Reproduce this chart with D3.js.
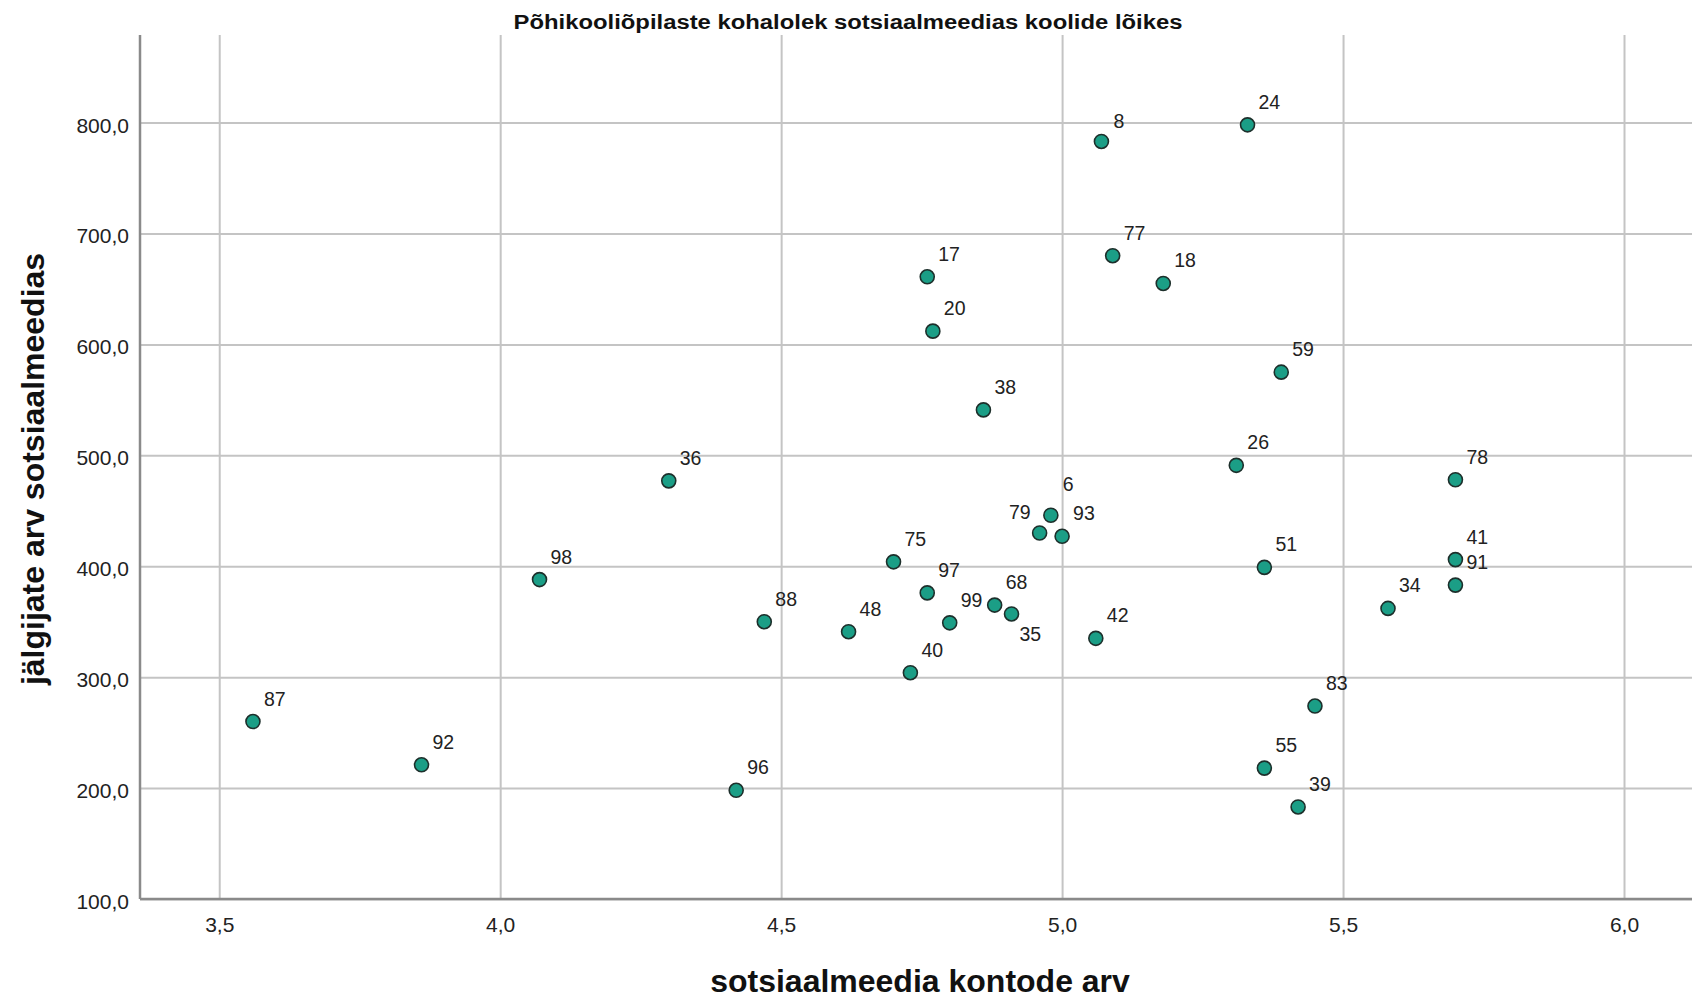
<!DOCTYPE html>
<html><head><meta charset="utf-8">
<script src="https://cdn.jsdelivr.net/npm/d3@7"></script>
<style>
html,body{margin:0;padding:0;background:#fff;}
svg{display:block;}
text{font-family:"Liberation Sans",Arial,sans-serif;}
</style></head><body>
<svg id="chart" width="1692" height="999"></svg>
<script>
// ---- data ----
const schoolIds = [87, 92, 98, 36, 96, 88, 48, 75, 40, 97, 17, 20, 99, 38, 68, 35, 79, 6, 93, 42, 8, 77, 18, 26, 24, 51, 55, 59, 39, 83, 34, 78, 41, 91];
const accounts  = [3.56, 3.86, 4.07, 4.30, 4.42, 4.47, 4.62, 4.70, 4.73, 4.76, 4.76, 4.77, 4.80, 4.86, 4.88, 4.91, 4.96, 4.98, 5.00, 5.06, 5.07, 5.09, 5.18, 5.31, 5.33, 5.36, 5.36, 5.39, 5.42, 5.45, 5.58, 5.70, 5.70, 5.70];
const followers = [260, 221, 388, 477, 198, 350, 341, 404, 304, 376, 661, 612, 349, 541, 365, 357, 430, 446, 427, 335, 783, 680, 655, 491, 798, 399, 218, 575, 183, 274, 362, 478, 406, 383];
const xTicks = [3.5, 4.0, 4.5, 5.0, 5.5, 6.0];
const yTicks = [100, 200, 300, 400, 500, 600, 700, 800];
const xDomain = [3.359, 6.121];
const yDomain = [100, 879];
const titleText = "Põhikooliõpilaste kohalolek sotsiaalmeedias koolide lõikes";
const xLabel = "sotsiaalmeedia kontode arv";
const yLabel = "jälgijate arv sotsiaalmeedias";

// label placement exceptions (styling)
const labelPlace = {79: "nw", 6: "n", 35: "se", 8: "ne2"};

(function () {
// ---- layout ----
const pLeft = 140, pRight = 1692, pTop = 35, pBottom = 899;
const svg = d3.select("#chart");
const x = d3.scaleLinear().domain(xDomain).range([pLeft, pRight]);
const y = d3.scaleLinear().domain(yDomain).range([pBottom, pTop]);
const loc = d3.formatLocale({decimal: ",", thousands: "\u00a0", grouping: [3], currency: ["", ""]});
const fmt = loc.format(".1f");

const gridColor = "#c4c4c4", axisColor = "#8a8a8a", textColor = "#222";

// gridlines
const gx = svg.append("g").attr("transform", `translate(0,${pBottom})`)
  .call(d3.axisBottom(x).tickValues(xTicks).tickSize(-(pBottom - pTop)).tickFormat(""));
gx.select(".domain").remove();
gx.selectAll("line").attr("stroke", gridColor).attr("stroke-width", 2);

const gy = svg.append("g").attr("transform", `translate(${pLeft},0)`)
  .call(d3.axisLeft(y).tickValues(yTicks).tickSize(-(pRight - pLeft)).tickFormat(""));
gy.select(".domain").remove();
gy.selectAll("line").attr("stroke", gridColor).attr("stroke-width", 2);

// axis lines
svg.append("line").attr("x1", pLeft).attr("x2", pLeft).attr("y1", pTop).attr("y2", pBottom)
  .attr("stroke", axisColor).attr("stroke-width", 2.5);
svg.append("line").attr("x1", pLeft).attr("x2", pRight).attr("y1", pBottom).attr("y2", pBottom)
  .attr("stroke", axisColor).attr("stroke-width", 2.5);

// tick labels
const ax = svg.append("g").attr("transform", `translate(0,${pBottom})`)
  .call(d3.axisBottom(x).tickValues(xTicks).tickSize(0).tickPadding(18).tickFormat(fmt));
ax.select(".domain").remove();
ax.selectAll("text").attr("font-size", 21).attr("fill", textColor)
  .attr("font-family", '"Liberation Sans",Arial,sans-serif');

const ay = svg.append("g").attr("transform", `translate(${pLeft},0)`)
  .call(d3.axisLeft(y).tickValues(yTicks).tickSize(0).tickPadding(11).tickFormat(fmt));
ay.select(".domain").remove();
ay.selectAll("text").attr("font-size", 21).attr("fill", textColor).attr("dy", "0.45em")
  .attr("font-family", '"Liberation Sans",Arial,sans-serif');

// points
const pts = schoolIds.map((id, i) => ({id, a: accounts[i], f: followers[i]}));
svg.append("g").selectAll("circle").data(pts).join("circle")
  .attr("cx", d => x(d.a)).attr("cy", d => y(d.f)).attr("r", 7)
  .attr("fill", "#1b9e86").attr("stroke", "#1d2f2b").attr("stroke-width", 1.6);

// point labels
function lp(d) {
  const cx = x(d.a), cy = y(d.f);
  switch (labelPlace[d.id]) {
    case "nw": return {x: cx - 9, y: cy - 21, anchor: "end"};
    case "n": return {x: cx + 12, y: cy - 31, anchor: "start"};
    case "se": return {x: cx + 8, y: cy + 20, anchor: "start"};
    case "ne2": return {x: cx + 12, y: cy - 20, anchor: "start"};
    default: return {x: cx + 11, y: cy - 23, anchor: "start"};
  }
}
svg.append("g").selectAll("text").data(pts).join("text")
  .attr("x", d => lp(d).x).attr("y", d => lp(d).y)
  .attr("text-anchor", d => lp(d).anchor)
  .attr("dy", "0.36em")
  .attr("font-size", 19.5).attr("fill", textColor)
  .text(d => d.id);

// title
svg.append("text").attr("x", 848).attr("y", 22).attr("dy", "0.36em")
  .attr("text-anchor", "middle").attr("font-size", 20).attr("font-weight", "bold")
  .attr("fill", "#111").attr("textLength", 669).attr("lengthAdjust", "spacingAndGlyphs")
  .text(titleText);

// axis titles
svg.append("text").attr("x", 920).attr("y", 980).attr("dy", "0.36em")
  .attr("text-anchor", "middle").attr("font-size", 32).attr("font-weight", "bold")
  .attr("fill", "#111").text(xLabel);
svg.append("text").attr("transform", "translate(32,469) rotate(-90)").attr("dy", "0.36em")
  .attr("text-anchor", "middle").attr("font-size", 32).attr("font-weight", "bold")
  .attr("fill", "#111").text(yLabel);
})();
</script>
</body></html>
